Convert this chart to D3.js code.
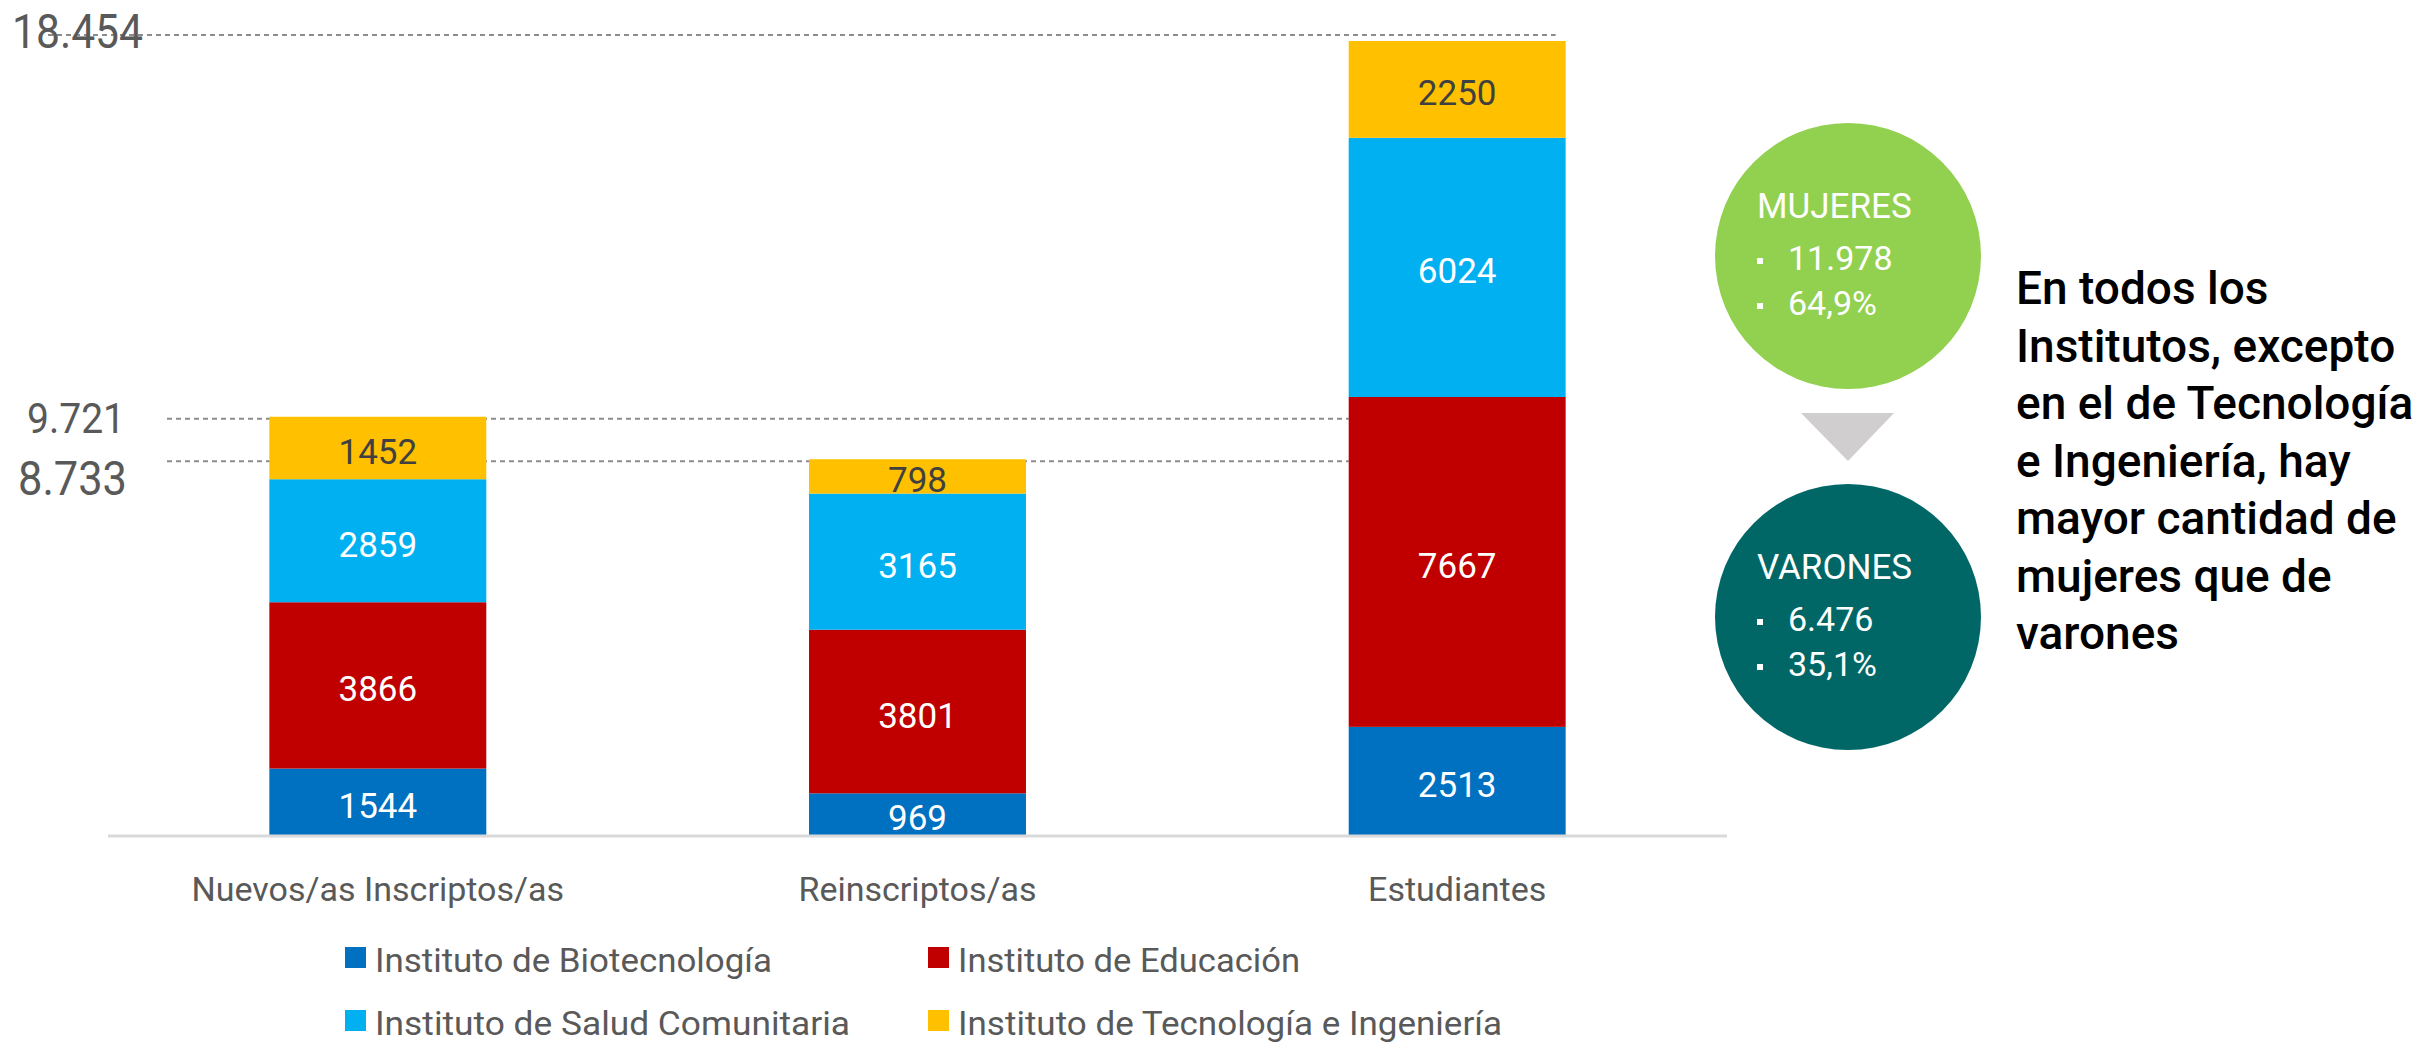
<!DOCTYPE html>
<html lang="es">
<head>
<meta charset="UTF-8" />
<title>Inscriptos y estudiantes por instituto</title>
<script src="https://cdn.jsdelivr.net/npm/d3@7"></script>
<style>
  html, body { margin: 0; padding: 0; background: #fff; }
  svg { display: block; font-family: Roboto, "Noto Sans", sans-serif; }
</style>
</head>
<body>
<div id="chart"></div>
<script>
// categorias del eje x
var categories = ["Nuevos/as Inscriptos/as", "Reinscriptos/as", "Estudiantes"];
var institutes = ["Instituto de Biotecnología", "Instituto de Educación",
                  "Instituto de Salud Comunitaria", "Instituto de Tecnología e Ingeniería"];
// valores por instituto (mismo orden que categories)
var biotecnologia = [1544, 969, 2513];
var educacion     = [3866, 3801, 7667];
var salud         = [2859, 3165, 6024];
var tecnologia    = [1452, 798, 2250];
// totales marcados a la izquierda
var totalMarks = [18454, 9721, 8733];
// circulos de genero
var genderNames  = ["MUJERES", "VARONES"];
var genderCounts = [11978, 6476];
var genderShares = ["64,9%", "35,1%"];
var noteLines = ["En todos los", "Institutos, excepto", "en el de Tecnología",
                 "e Ingeniería, hay", "mayor cantidad de", "mujeres que de", "varones"];

var colors = ["#0070C0", "#C00000", "#00B0F0", "#FFC000"];
var grey = "#595959";

var W = 2435, H = 1042;
var svg = d3.select("#chart").append("svg")
    .attr("width", W).attr("height", H);

var es = d3.formatLocale({ decimal: ",", thousands: ".", grouping: [3], currency: ["$", ""] });
var fmt = es.format(",d");

function fit(sel, w) {
  sel.attr("textLength", w).attr("lengthAdjust", "spacingAndGlyphs");
}

// tabla para el stack
var rows = categories.map(function(c, i) {
  return { cat: c, b: biotecnologia[i], e: educacion[i], s: salud[i], t: tecnologia[i] };
});
var keys = ["b", "e", "s", "t"];
var stacked = d3.stack().keys(keys)(rows);

var x = d3.scaleBand()
    .domain(categories)
    .range([108, 1727])
    .paddingInner(0.598)
    .paddingOuter(0.299);

var y = d3.scaleLinear()
    .domain([0, 18454])
    .range([835, 41]);

// lineas punteadas de totales
var dashEnds = [[48, x("Estudiantes") + x.bandwidth() - 10], [167, x("Estudiantes")], [167, x("Estudiantes")]];
svg.append("g").selectAll("line")
  .data(totalMarks)
  .enter().append("line")
    .attr("x1", function(d, i) { return dashEnds[i][0]; })
    .attr("x2", function(d, i) { return dashEnds[i][1]; })
    .attr("y1", function(d, i) { return i == 0 ? y(d) - 6 : y(d) + 2; })
    .attr("y2", function(d, i) { return i == 0 ? y(d) - 6 : y(d) + 2; })
    .attr("stroke", "#8c8c8c")
    .attr("stroke-width", 2)
    .attr("stroke-dasharray", "5,4");

// etiquetas de totales
var markStyle = [
  { x: 143, dy: 7, size: 48, w: 131 },
  { x: 125, dy: 16, size: 42, w: 98 },
  { x: 127, dy: 36, size: 48, w: 109 }
];
svg.append("g").selectAll("text")
  .data(totalMarks)
  .enter().append("text")
    .attr("x", function(d, i) { return markStyle[i].x; })
    .attr("y", function(d, i) { return y(d) + markStyle[i].dy; })
    .attr("text-anchor", "end")
    .attr("fill", grey)
    .style("font-size", function(d, i) { return markStyle[i].size + "px"; })
    .text(function(d) { return fmt(d); })
    .each(function(d, i) { fit(d3.select(this), markStyle[i].w); });

// barras apiladas
var layers = svg.append("g").selectAll("g")
  .data(stacked)
  .enter().append("g")
    .attr("fill", function(d, i) { return colors[i]; });

layers.selectAll("rect")
  .data(function(d) { return d; })
  .enter().append("rect")
    .attr("x", function(d) { return x(d.data.cat); })
    .attr("y", function(d) { return y(d[1]); })
    .attr("width", x.bandwidth())
    .attr("height", function(d) { return y(d[0]) - y(d[1]); });

// valores dentro de las barras
stacked.forEach(function(layer, li) {
  svg.append("g").selectAll("text")
    .data(layer)
    .enter().append("text")
      .attr("x", function(d) { return x(d.data.cat) + x.bandwidth() / 2; })
      .attr("y", function(d) { return (y(d[0]) + y(d[1])) / 2 + 16; })
      .attr("text-anchor", "middle")
      .attr("fill", li == 3 ? "#404040" : "#fff")
      .style("font-size", "35px")
      .text(function(d) { return d[1] - d[0]; });
});

// eje x
svg.append("line")
    .attr("x1", x.range()[0]).attr("x2", x.range()[1])
    .attr("y1", y(0) + 1).attr("y2", y(0) + 1)
    .attr("stroke", "#d9d9d9")
    .attr("stroke-width", 3);

svg.append("g").selectAll("text")
  .data(categories)
  .enter().append("text")
    .attr("x", function(d) { return x(d) + x.bandwidth() / 2; })
    .attr("y", 901)
    .attr("text-anchor", "middle")
    .attr("fill", grey)
    .style("font-size", "34px")
    .text(function(d) { return d; });

// leyenda
var legX = [345, 928], legY = [947, 1010];
var legW = [397, 342, 475, 544];
var leg = svg.append("g").selectAll("g")
  .data(institutes)
  .enter().append("g")
    .attr("transform", function(d, i) { return "translate(" + legX[i % 2] + "," + legY[Math.floor(i / 2)] + ")"; });
leg.append("rect")
    .attr("width", 21).attr("height", 21)
    .attr("fill", function(d, i) { return colors[i]; });
leg.append("text")
    .attr("x", 30).attr("y", 25)
    .attr("fill", grey)
    .style("font-size", "34px")
    .text(function(d) { return d; })
    .each(function(d, i) { fit(d3.select(this), legW[i]); });

// circulos mujeres / varones
var cx = 1848, cys = [256, 617], r = 133;
var circleColors = ["#92D050", "#006766"];
var g = svg.append("g").selectAll("g")
  .data(genderNames)
  .enter().append("g")
    .attr("transform", function(d, i) { return "translate(" + cx + "," + cys[i] + ")"; });
g.append("circle")
    .attr("r", r)
    .attr("fill", function(d, i) { return circleColors[i]; });
g.append("text")
    .attr("x", -91).attr("y", -38)
    .attr("fill", "#fff")
    .style("font-size", "35px")
    .text(function(d) { return d; });
[0, 1].forEach(function(k) {
  g.append("rect")
      .attr("x", -91).attr("y", 14 + k * 45 - 12)
      .attr("width", 6).attr("height", 6)
      .attr("fill", "#fff");
  g.append("text")
      .attr("x", -60).attr("y", 14 + k * 45)
      .attr("fill", "#fff")
      .style("font-size", "34px")
      .text(function(d, i) { return k == 0 ? fmt(genderCounts[i]) : genderShares[i]; });
});

// flecha
svg.append("path")
    .attr("d", "M" + (cx - 47) + ",413 L" + (cx + 46) + ",413 L" + cx + ",461 Z")
    .attr("fill", "#d0cece");

// nota
svg.append("g").selectAll("text")
  .data(noteLines)
  .enter().append("text")
    .attr("x", 2016)
    .attr("y", function(d, i) { return 304 + i * 57.5; })
    .attr("fill", "#000")
    .style("font-size", "46px")
    .style("font-weight", 500)
    .text(function(d) { return d; });
</script>
</body>
</html>
